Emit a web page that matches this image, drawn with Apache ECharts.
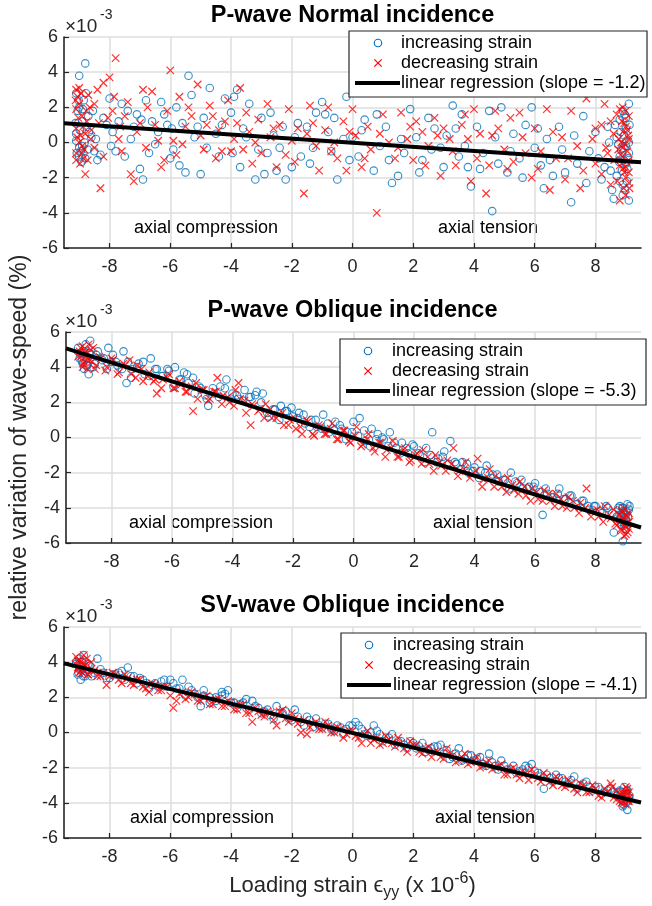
<!DOCTYPE html>
<html><head><meta charset="utf-8">
<script src="https://cdn.jsdelivr.net/npm/echarts@6/dist/echarts.min.js"></script>
<style>html,body{margin:0;padding:0;background:#fff}#c{width:652px;height:906px}</style>
</head><body><div id="c"></div>
<script>
// ---------- data ----------
const xTicks = [-8, -6, -4, -2, 0, 2, 4, 6, 8];
const yTicks = [-6, -4, -2, 0, 2, 4, 6];
const titles = ['P-wave Normal incidence', 'P-wave Oblique incidence', 'SV-wave Oblique incidence'];
const slopes = ['-1.2', '-5.3', '-4.1'];
const seriesNames = ['increasing strain', 'decreasing strain', 'linear regression'];
const regionNames = ['axial compression', 'axial tension'];

const p1Inc = [[-9.0,3.8],[-8.8,4.5],[-9.1,2.8],[-9.0,2.0],[-8.9,1.2],[-9.1,0.5],[-8.9,-0.2],[-9.0,-0.8],[-8.7,1.5],[-8.6,0.3],[-8.5,-0.5],[-8.4,-1.0],[-8.2,1.4],[-8.0,2.5],[-7.9,0.6],[-7.8,-0.5],[-7.6,2.2],[-7.4,1.8],[-7.3,0.2],[-7.1,1.6],[-7.0,-1.5],[-6.9,-2.1],[-6.8,2.4],[-6.6,1.2],[-6.5,-0.1],[-6.3,2.3],[-6.1,1.0],[-6.0,-0.9],[-5.9,-0.4],[-5.8,2.0],[-5.7,-1.3],[-5.5,-1.7],[-5.4,3.8],[-5.3,2.7],[-5.2,0.3],[-5.0,-1.8],[-4.9,1.4],[-4.7,3.1],[-4.5,0.5],[-4.4,-0.8],[-4.2,2.5],[-4.0,1.7],[-3.9,2.6],[-3.8,3.0],[-3.7,-1.4],[-3.6,0.8],[-3.4,2.2],[-3.2,-2.1],[-3.0,1.4],[-2.9,-1.8],[-2.8,-0.6],[-2.6,0.4],[-2.5,-1.6],[-2.3,0.9],[-2.2,-2.1],[-2.0,-1.4],[-1.9,0.3],[-1.7,-0.8],[-1.5,0.9],[-1.3,-0.3],[-1.2,1.7],[-1.0,2.3],[-0.8,0.6],[-0.6,1.4],[-0.5,-2.1],[-0.3,0.2],[-0.2,2.6],[-0.9,1.6],[0.0,0.3],[0.2,-0.8],[0.4,1.3],[0.7,-1.6],[0.9,-0.2],[1.1,0.9],[1.3,-2.3],[1.5,-1.9],[1.7,-0.6],[1.9,1.9],[2.1,0.3],[2.3,-1.0],[2.5,1.4],[2.7,0.8],[2.9,-0.3],[3.1,0.4],[3.3,2.1],[3.5,-0.8],[3.6,1.6],[3.8,-1.4],[3.9,-2.5],[4.1,0.9],[4.3,-0.6],[4.5,1.8],[4.6,-3.9],[4.8,-1.2],[4.9,2.0],[5.1,-1.7],[5.3,0.5],[5.5,-0.9],[5.7,1.0],[5.9,2.0],[6.0,-0.3],[6.2,-1.3],[6.3,-2.6],[6.4,0.2],[6.6,-1.9],[6.8,0.9],[7.0,-1.7],[7.2,-3.4],[7.4,-1.2],[7.6,1.5],[7.8,-0.5],[8.0,0.6],[8.2,-2.1],[8.4,0.9],[8.5,-1.6],[8.6,-3.2],[8.7,0.3],[8.8,-0.8],[8.9,1.8],[8.9,-2.4],[9.0,-1.2],[9.0,0.8],[9.1,-3.3],[9.1,2.2],[9.0,-0.2],[8.8,1.3],[8.7,-1.9],[9.1,-0.6],[8.9,-3.0],[-9.05,1.8],[-8.95,-0.5],[-9.1,0.1],[-8.85,2.4],[-8.75,0.9],[-9.0,-0.3],[-8.8,-0.9],[8.95,0.4],[9.05,-1.5],[8.85,-0.4],[9.0,1.4],[8.8,-2.2],[9.1,0.0],[8.9,-1.0],[8.75,-0.1]];
const p1IncMore = [[-9.12,1.1],[-9.08,-0.6],[-9.02,2.4],[-8.98,0.7],[-8.92,-1.1],[-8.88,1.9],[-8.82,0.0],[-8.78,2.8],[-8.72,-0.4],[-8.68,0.6],[-8.55,1.8],[-8.45,0.2],[-8.3,-0.7],[-8.1,1.0],[-7.95,-0.2],[-7.7,1.2],[-7.5,-0.8],[-7.2,0.9],[-6.95,1.3],[-6.7,-0.6],[-6.4,0.6],[-6.2,1.6],[-5.95,0.8],[-5.6,1.1],[-5.1,0.9],[-4.8,-0.3],[-4.3,1.0],[-3.95,-0.6],[-3.5,0.3],[-3.1,-0.4],[-2.7,1.7],[-2.4,-0.3],[-1.8,1.1],[-1.4,-1.2],[-0.7,-0.5],[-0.1,-1.0],[0.3,0.7],[0.8,1.6],[1.2,-1.0],[1.6,0.2],[2.2,-1.7],[2.6,-0.4],[3.0,-1.4],[3.4,0.8],[3.7,-0.2],[4.2,-1.5],[4.7,0.3],[5.2,-0.5],[5.6,-2.0],[6.1,0.8],[6.5,-1.0],[6.9,-0.4],[7.3,0.4],[7.7,-2.3],[8.1,-0.9],[8.3,-1.4],[8.45,0.0],[8.55,-2.7],[8.65,1.0],[8.78,-1.1],[8.83,0.6],[8.87,-1.6],[8.92,-0.3],[8.97,-2.7],[9.02,0.1],[9.07,-0.9],[9.12,1.0],[9.04,-2.2],[8.96,1.6]];
const p1Dec = [[-9.1,3.0],[-9.0,2.2],[-8.9,1.5],[-9.1,0.8],[-9.0,0.0],[-8.9,-0.6],[-9.1,-1.0],[-8.8,-1.8],[-8.7,2.7],[-8.6,0.7],[-8.5,-0.3],[-8.4,3.0],[-8.3,-2.6],[-8.2,3.4],[-8.0,3.7],[-7.9,1.8],[-7.8,4.8],[-7.7,0.2],[-7.6,-0.5],[-7.5,1.5],[-7.3,-1.8],[-7.2,-2.2],[-7.1,0.6],[-6.9,3.0],[-6.8,-0.3],[-6.6,2.9],[-6.5,1.0],[-6.3,-1.4],[-6.2,-1.0],[-6.0,4.1],[-5.9,0.1],[-5.7,2.6],[-5.6,-0.1],[-5.5,0.9],[-5.3,1.5],[-5.1,3.3],[-5.0,0.4],[-4.9,-0.4],[-4.7,2.1],[-4.6,1.5],[-4.4,0.7],[-4.3,-0.5],[-4.1,2.4],[-4.0,-0.5],[-3.8,1.1],[-3.7,3.1],[-3.6,-0.4],[-3.4,0.6],[-3.3,-1.2],[-3.1,1.3],[-3.0,-0.6],[-2.8,2.2],[-2.7,0.3],[-2.5,-1.4],[-2.4,1.0],[-2.2,-0.7],[-2.1,1.9],[-1.9,-1.1],[-1.8,0.8],[-1.6,-2.9],[-1.5,0.5],[-1.4,2.1],[-1.2,-0.2],[-1.1,-1.6],[-0.9,0.7],[-0.8,2.0],[-0.6,0.0],[-0.5,-0.9],[-0.3,1.2],[-0.2,-1.6],[0.0,1.9],[0.1,0.4],[0.3,-1.4],[0.5,0.9],[0.6,-0.4],[0.8,-4.0],[1.0,1.6],[1.2,0.0],[1.4,-0.9],[1.6,1.7],[1.8,0.2],[2.0,-1.0],[2.1,1.2],[2.3,0.6],[2.5,-0.2],[2.7,1.4],[2.9,-1.9],[3.0,0.8],[3.2,0.2],[3.4,-1.3],[3.6,1.0],[3.8,0.2],[3.9,-2.2],[4.0,1.9],[4.2,0.5],[4.4,-2.9],[4.5,-1.3],[4.7,1.8],[4.8,0.8],[5.0,-0.4],[5.2,1.4],[5.3,-1.1],[5.5,1.7],[5.7,-0.6],[5.9,-2.0],[6.0,0.8],[6.2,-0.5],[6.4,1.9],[6.5,-2.7],[6.7,-0.9],[6.9,0.3],[7.0,-2.1],[7.2,1.8],[7.4,-0.2],[7.5,-2.6],[7.7,2.5],[7.9,0.2],[8.0,-1.2],[8.2,1.0],[8.3,2.2],[8.4,-0.6],[8.5,-2.4],[8.6,0.5],[8.7,1.6],[8.8,-1.3],[8.9,2.0],[8.9,-0.3],[9.0,0.9],[9.0,-2.0],[9.1,1.5],[9.1,-1.0],[9.0,-3.0],[9.1,0.2],[8.8,-3.3],[8.9,0.6],[9.1,-1.7],[-9.05,2.6],[-8.95,0.4],[-9.1,1.9],[-8.85,-0.9],[-8.75,1.2],[-9.0,3.1],[-8.9,-0.2],[-8.8,0.5],[-9.1,-0.6],[-8.65,2.0],[9.05,-0.5],[8.95,1.1],[9.0,-1.4],[8.85,0.0],[9.1,-2.3],[8.9,-0.8],[8.95,-1.7],[9.05,0.7],[8.75,-0.4],[8.8,1.9]];
const p1DecMore = [[-9.12,2.4],[-9.07,0.3],[-9.03,1.4],[-8.97,-1.2],[-8.93,2.8],[-8.87,0.9],[-8.83,-0.4],[-8.77,1.8],[-8.72,-1.0],[-8.62,0.2],[-8.5,2.2],[-8.35,1.1],[-8.2,-0.8],[-8.05,1.4],[-7.85,2.6],[-7.65,0.9],[-7.4,2.3],[-7.0,1.1],[-6.75,2.0],[-6.4,0.1],[-6.1,1.8],[-5.8,-0.7],[-5.4,2.0],[-4.8,1.0],[-4.5,-0.9],[-4.2,1.2],[-3.9,0.2],[-3.5,1.7],[-3.2,0.0],[-2.6,0.8],[-2.0,0.1],[-1.3,1.1],[-0.7,-0.5],[-0.1,0.6],[0.4,-0.9],[0.9,0.5],[1.5,-0.3],[1.9,0.9],[2.4,-1.3],[2.8,0.4],[3.3,-0.5],[3.7,1.6],[4.1,-0.9],[4.6,0.4],[5.1,-1.5],[5.6,0.3],[6.1,-1.5],[6.6,0.6],[7.1,-0.9],[7.6,-1.6],[8.0,0.8],[8.2,-1.8],[8.35,-0.3],[8.5,1.2],[8.62,-1.0],[8.72,-2.2],[8.77,0.2],[8.83,-0.7],[8.87,1.2],[8.93,-2.6],[8.98,-0.1],[9.03,-1.1],[9.08,0.4],[9.12,-2.6],[9.0,1.8],[8.9,-1.5]];
const p1Fit = [[-9.5,1.1],[9.5,-1.12]];

const p2Inc = [[-9.0,4.8],[-8.95,4.2],[-8.9,3.9],[-8.85,5.3],[-8.8,4.5],[-8.75,3.6],[-8.7,5.5],[-8.6,4.0],[-8.5,4.7],[-8.3,4.4],[-8.1,5.1],[-8.0,4.3],[-7.8,4.1],[-7.6,4.9],[-7.5,3.1],[-7.3,3.9],[-7.1,4.2],[-6.9,3.6],[-6.7,4.5],[-6.5,3.9],[-6.3,3.5],[-6.1,3.8],[-5.9,4.0],[-5.7,3.3],[-5.5,3.6],[-5.3,3.4],[-5.1,2.9],[-4.9,2.4],[-4.8,1.8],[-4.6,2.5],[-4.4,2.9],[-4.2,3.3],[-4.0,2.5],[-3.8,2.2],[-3.6,2.7],[-3.4,2.3],[-3.2,2.6],[-3.0,2.5],[-2.8,1.2],[-2.6,1.6],[-2.4,1.8],[-2.2,1.5],[-2.0,1.2],[-1.8,1.4],[-1.6,0.8],[-1.4,1.0],[-1.2,0.6],[-1.0,1.3],[-0.8,0.3],[-0.6,0.9],[-0.4,0.5],[-0.2,0.3],[0.0,0.9],[0.2,1.1],[0.4,-0.2],[0.6,0.5],[0.8,0.2],[1.0,-0.1],[1.2,0.3],[1.4,-0.6],[1.6,-0.3],[1.8,-0.9],[2.0,-0.5],[2.2,-1.0],[2.4,-0.6],[2.6,0.3],[2.8,-1.2],[3.0,-0.8],[3.2,-0.2],[3.4,-1.5],[3.6,-1.4],[3.8,-2.0],[4.0,-1.7],[4.2,-1.9],[4.4,-1.6],[4.6,-2.1],[4.8,-2.5],[5.0,-2.4],[5.2,-2.0],[5.4,-2.6],[5.6,-2.9],[5.8,-2.8],[6.0,-2.6],[6.25,-4.4],[6.4,-3.2],[6.6,-3.4],[6.8,-2.9],[7.0,-3.5],[7.2,-3.3],[7.4,-3.8],[7.6,-3.6],[7.8,-4.1],[8.0,-3.9],[8.2,-4.3],[8.4,-4.0],[8.6,-5.4],[8.7,-4.5],[8.8,-3.9],[8.85,-4.8],[8.9,-4.2],[8.95,-5.0],[9.0,-4.4],[9.05,-3.8],[8.9,-5.9],[9.0,-4.7],[8.9,-4.0],[-9.05,4.5],[-8.9,4.9],[-8.8,4.1],[-8.7,4.7],[8.85,-4.4],[9.0,-5.2],[9.1,-4.1],[8.95,-4.6]];
const p2IncMore = [[-9.1,5.1],[-8.98,4.4],[-8.92,4.8],[-8.82,4.1],[-8.72,4.8],[-8.55,4.2],[-8.45,4.9],[-8.25,4.5],[-8.15,3.9],[-7.95,4.7],[-7.85,4.3],[-7.65,3.9],[-7.45,4.3],[-7.35,3.4],[-7.15,4.0],[-6.95,4.3],[-6.75,3.5],[-6.55,3.9],[-6.35,3.5],[-6.15,3.9],[-5.95,2.9],[-5.75,3.3],[-5.6,3.7],[-5.45,3.1],[-5.25,2.5],[-5.05,2.8],[-4.85,2.2],[-4.65,2.8],[-4.45,2.3],[-4.25,2.8],[-4.05,2.2],[-3.85,2.4],[-3.65,2.1],[-3.45,2.3],[-3.25,2.4],[-3.05,2.0],[-2.85,1.4],[-2.65,1.6],[-2.45,1.0],[-2.25,1.5],[-2.05,1.7],[-1.85,1.1],[-1.65,1.3],[-1.45,0.6],[-1.25,1.0],[-1.05,0.5],[-0.85,0.8],[-0.65,0.4],[-0.45,0.7],[-0.25,-0.1],[-0.05,0.3],[0.15,0.1],[0.35,0.4],[0.55,-0.5],[0.75,-0.1],[0.95,0.0],[1.15,-0.5],[1.35,-0.3],[1.55,-0.9],[1.75,-0.6],[1.95,-0.4],[2.15,-0.9],[2.35,-1.4],[2.55,-1.0],[2.75,-1.4],[2.95,-1.1],[3.15,-1.5],[3.35,-1.4],[3.55,-1.8],[3.75,-1.5],[3.95,-1.9],[4.15,-2.3],[4.35,-2.0],[4.55,-2.3],[4.75,-2.1],[4.95,-2.4],[5.15,-2.9],[5.35,-2.5],[5.55,-2.4],[5.75,-2.9],[5.95,-2.8],[6.15,-3.1],[6.35,-2.9],[6.55,-3.4],[6.75,-3.2],[6.95,-3.5],[7.15,-3.3],[7.35,-3.8],[7.55,-3.6],[7.75,-3.9],[7.95,-3.9],[8.15,-4.2],[8.35,-3.9],[8.55,-4.3],[8.75,-4.0],[8.82,-4.5],[8.88,-4.0],[8.93,-4.3],[8.97,-4.9],[9.02,-4.2],[9.07,-4.5],[9.12,-3.9]];
const p2Dec = [[-9.0,4.6],[-8.95,5.2],[-8.9,4.3],[-8.85,4.9],[-8.8,3.9],[-8.7,4.4],[-8.6,5.1],[-8.5,4.1],[-8.4,4.6],[-8.2,3.8],[-8.0,4.5],[-7.8,3.6],[-7.6,4.2],[-7.4,4.4],[-7.2,3.4],[-7.0,3.9],[-6.8,3.5],[-6.6,3.2],[-6.5,2.5],[-6.3,3.3],[-6.1,3.6],[-5.9,2.8],[-5.7,3.0],[-5.5,2.6],[-5.3,1.5],[-5.2,3.1],[-5.0,2.7],[-4.8,2.1],[-4.6,2.6],[-4.5,3.4],[-4.3,2.4],[-4.1,2.0],[-3.9,2.7],[-3.8,3.1],[-3.6,2.1],[-3.4,0.7],[-3.3,1.8],[-3.1,1.6],[-2.9,1.9],[-2.7,1.1],[-2.5,1.3],[-2.3,0.7],[-2.1,1.0],[-1.9,0.5],[-1.7,0.2],[-1.5,0.9],[-1.3,0.1],[-1.1,0.6],[-0.9,0.2],[-0.7,0.8],[-0.5,-0.1],[-0.3,0.4],[-0.1,-0.3],[0.1,0.6],[0.3,-0.4],[0.5,0.2],[0.7,-0.8],[0.9,-0.3],[1.1,-0.7],[1.3,-0.2],[1.5,-1.1],[1.7,-0.6],[1.9,-1.3],[2.1,-0.9],[2.3,-0.7],[2.5,-1.5],[2.7,-1.0],[2.9,-1.6],[3.1,-1.3],[3.3,-0.6],[3.5,-1.9],[3.7,-1.4],[3.9,-2.1],[4.1,-1.2],[4.3,-2.4],[4.5,-1.8],[4.7,-2.2],[4.9,-2.8],[5.1,-2.3],[5.3,-3.0],[5.5,-2.5],[5.7,-3.3],[5.9,-2.9],[6.1,-3.5],[6.3,-3.0],[6.5,-3.6],[6.7,-3.2],[6.9,-3.9],[7.1,-3.4],[7.3,-4.0],[7.5,-3.7],[7.7,-2.9],[7.9,-4.2],[8.1,-4.5],[8.3,-3.9],[8.5,-4.6],[8.6,-4.1],[8.7,-5.0],[8.8,-4.4],[8.85,-5.3],[8.9,-4.7],[8.95,-4.0],[9.0,-5.5],[9.05,-4.9],[9.1,-4.3],[9.0,-5.1],[-9.05,4.9],[-8.95,4.0],[-8.85,4.6],[-8.75,5.3],[-8.65,4.3],[8.8,-4.8],[8.95,-5.6],[9.05,-4.5],[9.1,-5.2],[8.9,-4.2]];
const p2DecMore = [[-9.1,4.6],[-9.02,5.1],[-8.93,4.2],[-8.87,4.8],[-8.78,4.4],[-8.68,5.0],[-8.55,3.9],[-8.35,4.5],[-8.15,4.0],[-7.95,4.4],[-7.75,3.7],[-7.55,4.1],[-7.35,3.6],[-7.15,4.1],[-6.95,3.2],[-6.75,3.7],[-6.55,3.3],[-6.35,2.8],[-6.15,3.4],[-5.95,2.8],[-5.75,3.2],[-5.55,2.6],[-5.35,2.9],[-5.15,2.2],[-4.95,2.7],[-4.75,2.2],[-4.55,2.6],[-4.35,1.9],[-4.15,2.3],[-3.95,1.8],[-3.75,2.2],[-3.55,1.4],[-3.35,1.9],[-3.15,1.5],[-2.95,1.1],[-2.75,1.6],[-2.55,1.1],[-2.35,1.4],[-2.15,0.7],[-1.95,1.1],[-1.75,0.6],[-1.55,1.0],[-1.35,0.2],[-1.15,0.7],[-0.95,0.2],[-0.75,0.5],[-0.55,-0.1],[-0.35,0.4],[-0.15,-0.2],[0.05,0.1],[0.25,-0.5],[0.45,-0.1],[0.65,-0.6],[0.85,-0.3],[1.05,-1.1],[1.25,-0.6],[1.45,-1.1],[1.65,-0.7],[1.85,-1.4],[2.05,-1.0],[2.25,-1.5],[2.45,-1.1],[2.65,-1.9],[2.85,-1.4],[3.05,-1.9],[3.25,-1.5],[3.45,-2.2],[3.65,-1.8],[3.85,-2.3],[4.05,-1.9],[4.25,-2.8],[4.45,-2.3],[4.65,-2.8],[4.85,-2.4],[5.05,-3.1],[5.25,-2.7],[5.45,-3.2],[5.65,-2.8],[5.85,-3.6],[6.05,-3.1],[6.25,-3.6],[6.45,-3.2],[6.65,-3.9],[6.85,-3.5],[7.05,-4.0],[7.25,-3.6],[7.45,-4.3],[7.65,-4.0],[7.85,-4.5],[8.05,-4.1],[8.25,-4.8],[8.45,-4.4],[8.65,-4.9],[8.78,-4.4],[8.84,-5.2],[8.91,-4.6],[8.96,-5.0],[9.01,-4.4],[9.06,-5.4],[9.11,-4.8],[9.03,-4.9],[8.87,-4.2]];
const p2Fit = [[-9.5,5.07],[9.5,-5.12]];

const p3Inc = [[-9.1,3.9],[-9.05,3.3],[-9.0,4.2],[-8.95,3.0],[-8.9,3.7],[-8.85,4.4],[-8.8,3.5],[-8.7,3.9],[-8.6,3.2],[-8.4,4.2],[-8.2,3.4],[-8.0,3.1],[-7.8,3.3],[-7.6,3.5],[-7.4,3.7],[-7.2,3.2],[-7.0,3.1],[-6.8,2.8],[-6.6,2.7],[-6.4,2.6],[-6.2,3.0],[-6.0,3.0],[-5.8,2.5],[-5.6,3.0],[-5.4,2.6],[-5.2,2.2],[-5.0,1.5],[-4.9,2.4],[-4.7,2.0],[-4.5,1.8],[-4.3,2.3],[-4.1,2.4],[-3.9,1.7],[-3.7,1.6],[-3.5,1.9],[-3.3,1.8],[-3.1,1.4],[-2.9,1.2],[-2.7,1.0],[-2.5,1.5],[-2.3,1.1],[-2.1,0.8],[-1.9,1.3],[-1.7,0.6],[-1.5,0.9],[-1.3,0.3],[-1.1,0.4],[-0.9,0.5],[-0.7,0.2],[-0.5,0.4],[-0.3,-0.1],[-0.1,0.4],[0.1,0.6],[0.3,0.2],[0.5,-0.2],[0.7,0.4],[0.9,-0.1],[1.1,-0.3],[1.3,-0.1],[1.5,-0.5],[1.7,-0.7],[1.9,-0.5],[2.1,-0.9],[2.3,-0.6],[2.5,-1.0],[2.7,-0.8],[2.9,-0.7],[3.1,-1.0],[3.3,-1.4],[3.5,-0.9],[3.7,-1.5],[3.9,-1.3],[4.1,-1.5],[4.3,-1.8],[4.5,-1.2],[4.7,-1.9],[4.9,-1.6],[5.1,-2.1],[5.3,-1.9],[5.5,-2.2],[5.7,-1.9],[5.9,-1.8],[6.1,-2.3],[6.3,-3.2],[6.5,-2.6],[6.7,-2.4],[6.9,-2.6],[7.1,-2.9],[7.3,-2.5],[7.5,-3.0],[7.7,-2.8],[7.9,-3.3],[8.1,-3.1],[8.3,-3.4],[8.5,-3.2],[8.7,-3.6],[8.8,-3.3],[8.9,-3.9],[9.0,-3.5],[9.05,-4.4],[9.1,-3.7],[8.95,-3.1],[9.0,-4.0],[-9.0,3.6],[-8.9,4.0],[-8.8,3.2],[8.85,-3.7],[9.05,-3.3],[8.9,-4.2]];
const p3IncMore = [[-9.1,4.0],[-9.02,3.4],[-8.94,3.8],[-8.86,3.2],[-8.78,3.7],[-8.66,3.8],[-8.5,3.4],[-8.3,3.6],[-8.1,3.1],[-7.9,3.3],[-7.7,3.4],[-7.5,3.0],[-7.3,3.2],[-7.1,2.8],[-6.9,3.0],[-6.7,2.5],[-6.5,2.8],[-6.3,2.9],[-6.1,2.6],[-5.9,2.8],[-5.7,2.5],[-5.5,2.1],[-5.3,2.4],[-5.1,2.0],[-4.9,2.1],[-4.7,1.7],[-4.5,2.0],[-4.3,2.1],[-4.2,2.2],[-4.0,1.7],[-3.8,1.4],[-3.6,1.7],[-3.4,1.3],[-3.2,1.5],[-3.0,1.1],[-2.8,1.3],[-2.6,0.8],[-2.4,1.1],[-2.2,1.2],[-2.0,0.7],[-1.8,0.9],[-1.6,0.4],[-1.4,0.7],[-1.2,0.8],[-1.0,0.3],[-0.8,0.5],[-0.6,0.1],[-0.4,0.3],[-0.2,0.2],[0.0,0.4],[0.2,0.4],[0.4,-0.1],[0.6,0.0],[0.8,0.1],[1.0,-0.5],[1.2,-0.3],[1.4,-0.7],[1.6,-0.5],[1.8,-0.9],[2.0,-0.6],[2.2,-0.8],[2.4,-1.1],[2.6,-0.9],[2.8,-0.8],[3.0,-1.2],[3.2,-1.5],[3.4,-1.2],[3.6,-1.6],[3.8,-1.3],[4.0,-1.6],[4.2,-1.4],[4.4,-1.9],[4.6,-1.7],[4.8,-2.1],[5.0,-1.9],[5.2,-2.1],[5.4,-2.3],[5.6,-2.1],[5.8,-2.0],[6.0,-2.2],[6.2,-2.5],[6.4,-2.4],[6.6,-2.8],[6.8,-2.6],[7.0,-2.8],[7.2,-2.7],[7.4,-3.2],[7.6,-2.9],[7.8,-3.1],[8.0,-3.1],[8.2,-3.5],[8.4,-3.3],[8.6,-3.4],[8.75,-3.4],[8.82,-3.8],[8.88,-3.4],[8.93,-4.1],[8.98,-3.6],[9.03,-3.3],[9.08,-3.9],[9.12,-3.6]];
const p3Dec = [[-9.1,4.3],[-9.05,3.7],[-9.0,3.4],[-8.95,4.0],[-8.9,3.6],[-8.85,4.4],[-8.8,3.8],[-8.7,3.3],[-8.6,4.0],[-8.5,3.5],[-8.3,3.2],[-8.1,2.7],[-7.9,3.4],[-7.7,3.0],[-7.5,3.3],[-7.3,2.8],[-7.1,3.0],[-6.9,2.6],[-6.7,2.3],[-6.5,2.7],[-6.3,2.4],[-6.1,2.6],[-5.9,1.4],[-5.7,2.2],[-5.5,1.9],[-5.3,2.3],[-5.1,1.8],[-4.9,2.0],[-4.7,1.6],[-4.5,1.9],[-4.3,1.5],[-4.1,1.8],[-3.9,1.3],[-3.7,1.6],[-3.5,1.1],[-3.3,0.6],[-3.1,1.2],[-2.9,0.9],[-2.7,1.1],[-2.5,0.4],[-2.3,1.3],[-2.1,0.6],[-1.9,0.8],[-1.7,0.0],[-1.5,-0.1],[-1.3,0.5],[-1.1,0.2],[-0.9,0.6],[-0.7,0.0],[-0.5,0.3],[-0.3,-0.3],[-0.1,0.1],[0.1,-0.2],[0.3,-0.6],[0.5,0.1],[0.7,-0.4],[0.9,-0.7],[1.1,-0.2],[1.3,-0.6],[1.5,-0.3],[1.7,-0.9],[1.9,-0.5],[2.1,-0.7],[2.3,-1.2],[2.5,-0.8],[2.7,-1.1],[2.9,-1.4],[3.1,-0.9],[3.3,-1.3],[3.5,-1.6],[3.7,-1.2],[3.9,-1.7],[4.1,-1.4],[4.3,-1.9],[4.5,-1.6],[4.7,-2.0],[4.9,-1.8],[5.1,-2.4],[5.3,-2.0],[5.5,-2.6],[5.7,-2.3],[5.9,-2.1],[6.1,-2.6],[6.3,-2.3],[6.5,-2.8],[6.7,-2.5],[6.9,-3.0],[7.1,-2.7],[7.3,-3.2],[7.5,-2.9],[7.7,-3.4],[7.9,-3.0],[8.1,-3.6],[8.3,-3.2],[8.5,-2.9],[8.6,-3.7],[8.7,-3.3],[8.8,-3.9],[8.9,-3.5],[9.0,-3.1],[9.05,-3.8],[9.1,-3.4],[9.0,-4.1],[-9.05,4.1],[-8.95,3.5],[-8.85,3.9],[-8.75,4.2],[8.85,-3.6],[8.95,-4.0],[9.05,-3.2],[9.1,-3.9]];
const p3DecMore = [[-9.12,3.9],[-9.04,3.6],[-8.97,4.1],[-8.9,3.4],[-8.82,3.8],[-8.72,3.3],[-8.6,3.6],[-8.4,3.2],[-8.2,3.4],[-8.0,3.2],[-7.8,3.3],[-7.6,2.8],[-7.4,3.1],[-7.2,2.7],[-7.0,3.0],[-6.8,2.5],[-6.6,2.8],[-6.4,2.4],[-6.2,2.6],[-6.0,2.1],[-5.8,1.8],[-5.6,2.3],[-5.4,2.0],[-5.2,2.2],[-5.0,1.8],[-4.8,2.1],[-4.6,1.6],[-4.4,1.9],[-4.2,1.5],[-4.0,1.7],[-3.8,1.3],[-3.6,1.6],[-3.4,1.1],[-3.2,1.4],[-3.0,1.0],[-2.8,1.2],[-2.6,0.7],[-2.4,1.2],[-2.2,0.8],[-2.0,1.1],[-1.8,0.5],[-1.6,0.7],[-1.4,0.3],[-1.2,0.6],[-1.0,0.2],[-0.8,0.4],[-0.6,0.0],[-0.4,0.2],[-0.2,-0.1],[0.0,0.1],[0.2,-0.3],[0.4,-0.1],[0.6,-0.6],[0.8,-0.3],[1.0,-0.6],[1.2,-0.4],[1.4,-0.8],[1.6,-0.6],[1.8,-1.1],[2.0,-0.7],[2.2,-1.1],[2.4,-0.9],[2.6,-1.4],[2.8,-1.1],[3.0,-1.5],[3.2,-1.2],[3.4,-1.7],[3.6,-1.4],[3.8,-1.8],[4.0,-1.6],[4.2,-2.0],[4.4,-1.7],[4.6,-2.1],[4.8,-1.9],[5.0,-2.4],[5.2,-2.1],[5.4,-2.4],[5.6,-2.2],[5.8,-2.7],[6.0,-2.4],[6.2,-2.8],[6.4,-2.5],[6.6,-3.0],[6.8,-2.7],[7.0,-3.1],[7.2,-2.9],[7.4,-3.4],[7.6,-3.0],[7.8,-3.4],[8.0,-3.2],[8.2,-3.7],[8.4,-3.4],[8.55,-3.1],[8.7,-3.8],[8.8,-3.5],[8.86,-4.0],[8.92,-3.5],[8.97,-3.8],[9.02,-3.4],[9.07,-3.9],[9.12,-3.7]];
const p3Fit = [[-9.5,3.93],[9.5,-3.98]];

const incData = [p1Inc.concat(p1IncMore), p2Inc.concat(p2IncMore), p3Inc.concat(p3IncMore)];
const decData = [p1Dec.concat(p1DecMore), p2Dec.concat(p2DecMore), p3Dec.concat(p3DecMore)];
const fitData = [p1Fit, p2Fit, p3Fit];

// ---------- layout / style ----------
const FONT = 'Liberation Sans, Arial, Helvetica, sans-serif';
const BLUE = '#0072BD', RED = '#FF0000', TXT = '#262626';
const gridTops = [37, 332, 627];
const gridH = 211;
const gLeft = 64, gWidth = 577;
const legendBoxes = [
  {x: 349, y: 31, w: 298, h: 66, mx: 378, tx: 401, lx0: 355, lx1: 400, r0: 43},
  {x: 340, y: 339, w: 306, h: 66, mx: 368, tx: 392, lx0: 346, lx1: 390, r0: 351},
  {x: 341, y: 633, w: 305, h: 65, mx: 369, tx: 393, lx0: 347, lx1: 391, r0: 645}
];
const rowGap = 20;
const annot = [
  {cx: 206, tx: 488, y: 228},
  {cx: 201, tx: 483, y: 523},
  {cx: 202, tx: 485, y: 818}
];
const XPATH = 'path://M0,0L10,10M0,10L10,0';

const grids = [], xAxes = [], yAxes = [], series = [], graphic = [];
for (let i = 0; i < 3; i++) {
  grids.push({left: gLeft, top: gridTops[i], width: gWidth, height: gridH, containLabel: false});
  const xa = {
    type: 'value', gridIndex: i, min: -9.5, max: 9.5,
    axisLine: {show: true, onZero: false, lineStyle: {color: TXT, width: 1.6}},
    axisTick: {show: true, inside: true, length: 5, customValues: xTicks, lineStyle: {color: TXT, width: 1.2}},
    axisLabel: {customValues: xTicks, color: TXT, fontSize: 18, fontFamily: FONT, margin: 10},
    splitLine: {show: true, lineStyle: {color: '#dedede', width: 1.5}}
  };
  if (i === 2) {
    xa.name = '{n|Loading strain \u03F5}{s|yy}{n| (x 10}{p|-6}{n|)}';
    xa.nameLocation = 'middle';
    xa.nameGap = 33;
    xa.nameTextStyle = {
      color: TXT, fontFamily: FONT,
      rich: {
        n: {fontSize: 22, fontFamily: FONT, color: TXT, lineHeight: 30},
        s: {fontSize: 16, fontFamily: FONT, color: TXT, lineHeight: 15, verticalAlign: 'bottom'},
        p: {fontSize: 16, fontFamily: FONT, color: TXT, lineHeight: 15, verticalAlign: 'top'}
      }
    };
  }
  xAxes.push(xa);
  const ya = {
    type: 'value', gridIndex: i, min: -6, max: 6, interval: 2,
    axisLine: {show: true, onZero: false, lineStyle: {color: TXT, width: 1.6}},
    axisTick: {show: true, inside: true, length: 5, lineStyle: {color: TXT, width: 1.2}},
    axisLabel: {color: TXT, fontSize: 18, fontFamily: FONT, margin: 6},
    splitLine: {show: true, lineStyle: {color: '#dedede', width: 1.5}}
  };
  if (i === 1) {
    ya.name = 'relative variation of wave-speed (%)';
    ya.nameLocation = 'middle';
    ya.nameGap = 35;
    ya.nameTextStyle = {color: TXT, fontSize: 23, fontFamily: FONT};
  }
  yAxes.push(ya);

  series.push({
    name: seriesNames[0], type: 'scatter', xAxisIndex: i, yAxisIndex: i,
    data: incData[i], symbol: 'circle', symbolSize: 7.5,
    itemStyle: {color: 'rgba(0,0,0,0)', borderColor: BLUE, borderWidth: 1.1},
    emphasis: {disabled: true}, silent: true
  });
  series.push({
    name: seriesNames[1], type: 'scatter', xAxisIndex: i, yAxisIndex: i,
    data: decData[i], symbol: XPATH, symbolSize: 7.5,
    itemStyle: {color: 'rgba(0,0,0,0)', borderColor: RED, borderWidth: 1.2},
    emphasis: {disabled: true}, silent: true
  });
  series.push({
    name: seriesNames[2], type: 'line', xAxisIndex: i, yAxisIndex: i,
    data: fitData[i], symbol: 'none', lineStyle: {color: '#000', width: 4}, silent: true
  });

  // title
  graphic.push({type: 'text', x: gLeft + gWidth / 2, y: gridTops[i] - 21,
    style: {text: titles[i], fill: '#000', font: 'bold 23.5px ' + FONT, align: 'center', verticalAlign: 'middle'}});
  // exponent label
  graphic.push({type: 'text', x: gLeft + 1, y: gridTops[i] - 10,
    style: {text: '\u00D710', fill: TXT, font: '19px ' + FONT, align: 'left', verticalAlign: 'middle'}});
  graphic.push({type: 'text', x: gLeft + 36, y: gridTops[i] - 22,
    style: {text: '-3', fill: TXT, font: '14px ' + FONT, align: 'left', verticalAlign: 'middle'}});
  // annotations
  graphic.push({type: 'text', x: annot[i].cx, y: annot[i].y,
    style: {text: regionNames[0], fill: '#000', font: '18px ' + FONT, align: 'center', verticalAlign: 'middle'}});
  graphic.push({type: 'text', x: annot[i].tx, y: annot[i].y,
    style: {text: regionNames[1], fill: '#000', font: '18px ' + FONT, align: 'center', verticalAlign: 'middle'}});
  // legend
  const L = legendBoxes[i];
  const r1 = L.r0 + rowGap, r2 = L.r0 + 2 * rowGap;
  graphic.push({type: 'rect', shape: {x: L.x, y: L.y, width: L.w, height: L.h},
    style: {fill: '#fff', stroke: TXT, lineWidth: 1.2}, z: 10});
  graphic.push({type: 'circle', shape: {cx: L.mx, cy: L.r0, r: 3.7},
    style: {fill: 'none', stroke: BLUE, lineWidth: 1.1}, z: 11});
  graphic.push({type: 'line', shape: {x1: L.mx - 3.7, y1: r1 - 3.7, x2: L.mx + 3.7, y2: r1 + 3.7},
    style: {stroke: RED, lineWidth: 1.2}, z: 11});
  graphic.push({type: 'line', shape: {x1: L.mx - 3.7, y1: r1 + 3.7, x2: L.mx + 3.7, y2: r1 - 3.7},
    style: {stroke: RED, lineWidth: 1.2}, z: 11});
  graphic.push({type: 'line', shape: {x1: L.lx0, y1: r2, x2: L.lx1, y2: r2},
    style: {stroke: '#000', lineWidth: 4}, z: 11});
  const ltxt = [seriesNames[0], seriesNames[1], seriesNames[2] + ' (slope = ' + slopes[i] + ')'];
  for (let r = 0; r < 3; r++) {
    graphic.push({type: 'text', x: L.tx, y: L.r0 + r * rowGap, z: 11,
      style: {text: ltxt[r], fill: '#000', font: '18px ' + FONT, align: 'left', verticalAlign: 'middle'}});
  }
}

const chart = echarts.init(document.getElementById('c'), null, {renderer: 'canvas'});
chart.setOption({
  animation: false,
  backgroundColor: '#fff',
  grid: grids, xAxis: xAxes, yAxis: yAxes, series: series, graphic: graphic
});
</script></body></html>
